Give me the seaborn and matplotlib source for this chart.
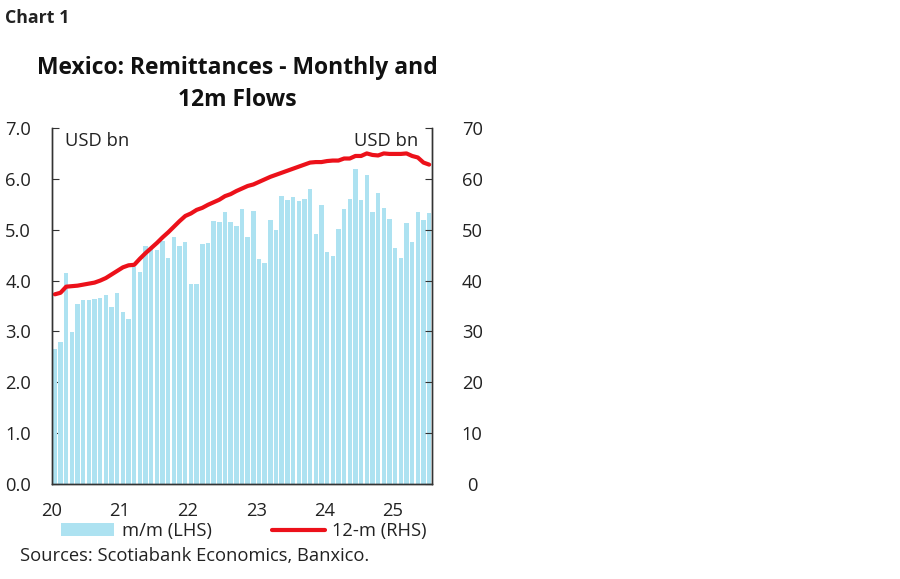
import numpy as np
import pandas as pd
import seaborn as sns
import matplotlib.pyplot as plt
from matplotlib.patches import Patch
from matplotlib.lines import Line2D

# monthly remittances, USD bn, Jan 2020 - Jul 2025
monthly = [2.66, 2.80, 4.14, 2.98, 3.54, 3.62, 3.62, 3.64, 3.66, 3.71, 3.48, 3.75,
           3.38, 3.25, 4.27, 4.17, 4.67, 4.62, 4.61, 4.77, 4.44, 4.85, 4.68, 4.76,
           3.93, 3.93, 4.71, 4.74, 5.17, 5.15, 5.34, 5.15, 5.08, 5.40, 4.85, 5.37,
           4.43, 4.34, 5.19, 5.00, 5.67, 5.59, 5.65, 5.57, 5.61, 5.81, 4.91, 5.48,
           4.56, 4.48, 5.01, 5.40, 5.61, 6.19, 5.58, 6.07, 5.35, 5.73, 5.42, 5.21,
           4.65, 4.45, 5.13, 4.75, 5.35, 5.20, 5.32]

# 12-month rolling flows, USD bn
rolling_12m = [37.3, 37.6, 38.8, 38.9, 39.0, 39.2, 39.4, 39.6, 40.0, 40.5, 41.2, 41.9,
               42.6, 43.0, 43.1, 44.3, 45.4, 46.4, 47.4, 48.5, 49.5, 50.6, 51.7, 52.7,
               53.2, 53.9, 54.3, 54.9, 55.4, 55.9, 56.6, 57.0, 57.6, 58.1, 58.6, 58.9,
               59.4, 59.9, 60.4, 60.8, 61.2, 61.6, 62.0, 62.4, 62.8, 63.2, 63.3, 63.3,
               63.5, 63.6, 63.6, 64.0, 64.0, 64.5, 64.5, 65.0, 64.7, 64.6, 65.0, 64.9,
               64.9, 64.9, 65.0, 64.5, 64.2, 63.2, 62.8]

year_ticks = [20, 21, 22, 23, 24, 25]
left_ticks = [0, 1, 2, 3, 4, 5, 6, 7]
right_ticks = [0, 10, 20, 30, 40, 50, 60, 70]

df = pd.DataFrame({'monthly': monthly, 'rolling': rolling_12m})
df['t'] = 20 + (np.arange(len(df)) + 0.5) / 12

bar_color = '#ADE2F1'
red = '#EC111A'
font = ['Open Sans', 'DejaVu Sans']
fs = 13.2

sns.set_style('white')
plt.rcParams['font.family'] = font
plt.rcParams['text.color'] = '#222222'

fig = plt.figure(figsize=(9, 5.79), dpi=100)
ax = fig.add_axes([52 / 900, 95 / 579, 380 / 900, 356 / 579])

sns.barplot(data=df, x='t', y='monthly', native_scale=True, color=bar_color,
            width=0.78, saturation=1, ax=ax, linewidth=0)
ax.set_xlim(20, 20 + len(df) / 12)
ax.set_ylim(0, 7)
ax.set_xticks(year_ticks)
ax.set_xticklabels([str(y) for y in year_ticks])
ax.set_yticks(left_ticks)
ax.set_yticklabels([f'{v:.1f}' for v in left_ticks])
ax.set_xlabel('')
ax.set_ylabel('')

ax2 = ax.twinx()
sns.lineplot(data=df, x='t', y='rolling', color=red, linewidth=3, ax=ax2)
ax2.set_ylim(0, 70)
ax2.set_yticks(right_ticks)
ax2.set_ylabel('')

for a in (ax, ax2):
    for s in a.spines.values():
        s.set_color('#333333')
        s.set_linewidth(1)
    a.spines['top'].set_visible(False)

ax.tick_params(axis='x', direction='out', length=5, color='#333333',
               labelsize=fs, pad=8, labelcolor='#222222')
ax.tick_params(axis='y', direction='in', length=5, color='#333333',
               labelsize=fs, pad=15, labelcolor='#222222')
ax2.tick_params(axis='y', direction='in', length=5, color='#333333',
                labelsize=fs, pad=29, labelcolor='#222222')
for lab in ax2.get_yticklabels():
    lab.set_horizontalalignment('center')

ax.text(0.035, 0.99, 'USD bn', transform=ax.transAxes, fontsize=fs,
        va='top', ha='left')
ax.text(0.965, 0.99, 'USD bn', transform=ax.transAxes, fontsize=fs,
        va='top', ha='right')

fig.text(5 / 900, 1 - 18 / 579, 'Chart 1', fontsize=12.8, fontweight='bold',
         va='center', ha='left')
fig.text(237 / 900, 1 - 84 / 579, 'Mexico: Remittances - Monthly and\n12m Flows',
         fontsize=16.5, fontweight='bold', ha='center', va='center',
         linespacing=1.4, color='#111111')

handles = [Patch(facecolor=bar_color, edgecolor='none'),
           Line2D([0], [0], color=red, linewidth=3)]
fig.legend(handles, ['m/m (LHS)', '12-m (RHS)'], ncol=2, frameon=False,
           loc='center', bbox_to_anchor=(244 / 900, 1 - 531 / 579),
           fontsize=fs, handlelength=2.9, handletextpad=0.4,
           columnspacing=3.3)

fig.text(20 / 900, 1 - 556 / 579, 'Sources: Scotiabank Economics, Banxico.',
         fontsize=fs, va='center', ha='left')

fig.savefig('out.png', dpi=100)
